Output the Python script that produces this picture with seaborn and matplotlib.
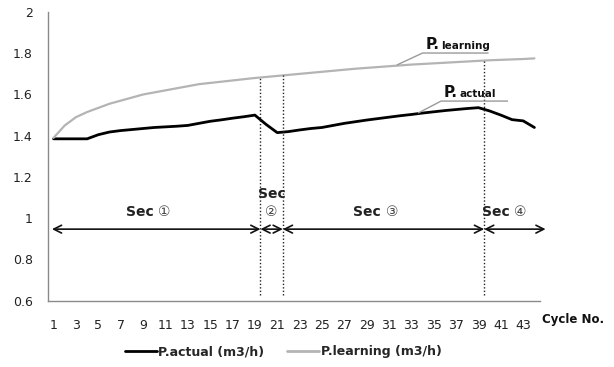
import numpy as np
import pandas as pd
import matplotlib
matplotlib.use("Agg")
import matplotlib.pyplot as plt
import seaborn as sns
from matplotlib.lines import Line2D

cycles = list(range(1, 45))
p_actual = [1.385, 1.385, 1.385, 1.385, 1.405, 1.418, 1.425, 1.430, 1.435, 1.440,
            1.443, 1.446, 1.450, 1.460, 1.470, 1.477, 1.485, 1.492, 1.500, 1.455,
            1.415, 1.420, 1.428, 1.435, 1.440, 1.450, 1.460, 1.468, 1.476, 1.483,
            1.490, 1.497, 1.503, 1.510, 1.516, 1.522, 1.527, 1.532, 1.536, 1.520,
            1.500, 1.478, 1.472, 1.440]
p_learning = [1.390, 1.450, 1.490, 1.515, 1.535, 1.555, 1.570, 1.585, 1.600, 1.610,
              1.620, 1.630, 1.640, 1.650, 1.656, 1.662, 1.668, 1.674, 1.680, 1.685,
              1.690, 1.695, 1.700, 1.705, 1.710, 1.715, 1.720, 1.725, 1.729, 1.733,
              1.737, 1.741, 1.745, 1.748, 1.751, 1.754, 1.757, 1.760, 1.763, 1.766,
              1.768, 1.770, 1.772, 1.775]
xtick_labels = [str(v) for v in range(1, 44, 2)]
ytick_values = [0.6, 0.8, 1.0, 1.2, 1.4, 1.6, 1.8, 2.0]
ytick_labels = ["0.6", "0.8", "1", "1.2", "1.4", "1.6", "1.8", "2"]
section_bounds = [0.85, 19.5, 21.5, 39.5, 45.0]
section_names = ["①", "②", "③", "④"]
series_names = ["P.actual (m3/h)", "P.learning (m3/h)"]

sns.set_style("white")
plt.rcParams['font.family'] = ['DejaVu Sans', 'Noto Sans CJK KR']

df = pd.DataFrame({
    "Cycle": cycles * 2,
    "Value": p_actual + p_learning,
    "Series": [series_names[0]] * len(cycles) + [series_names[1]] * len(cycles),
})

fig = plt.figure(figsize=(6.14, 3.67), dpi=100)
ax = fig.add_axes([48 / 614, 1 - 300.7 / 367, (540 - 48) / 614, (300.7 - 12) / 367])

sns.lineplot(data=df, x="Cycle", y="Value", hue="Series",
             palette={series_names[0]: "#000000", series_names[1]: "#b4b4b4"},
             ax=ax, legend=False, linewidth=2.0)
ax.lines[0].set_linewidth(2.0)
ax.lines[1].set_linewidth(1.6)

ax.set_xlim(0.5, 44.5)
ax.set_ylim(0.6, 2.0)
ax.set_xticks(list(range(1, 44, 2)))
ax.set_xticklabels(xtick_labels)
ax.set_yticks(ytick_values)
ax.set_yticklabels(ytick_labels)
ax.tick_params(axis="both", length=0, labelsize=9, colors="#222222")
ax.tick_params(axis="x", pad=13)
ax.tick_params(axis="y", pad=11)
ax.set_xlabel("")
ax.set_ylabel("")
for s in ["top", "right"]:
    ax.spines[s].set_visible(False)
for s in ["left", "bottom"]:
    ax.spines[s].set_color("#8a8a8a")
    ax.spines[s].set_linewidth(1.0)

# dotted section dividers
for xb in section_bounds[1:4]:
    top = np.interp(xb, cycles, p_learning)
    ax.vlines(xb, 0.627, top, colors="#222222", linestyles=(0, (1, 1.5)), linewidth=1.0)

# section arrows
arrow_y = 0.947
for i in range(4):
    ax.annotate("", xy=(section_bounds[i], arrow_y), xytext=(section_bounds[i + 1], arrow_y),
                arrowprops=dict(arrowstyle="<->", color="#111111", lw=1.2,
                                shrinkA=0, shrinkB=0, mutation_scale=14),
                annotation_clip=False)

label_y = 1.03
ax.text((section_bounds[0] + section_bounds[1]) / 2 + 0.2, label_y, "Sec ",
        ha="right", va="center", fontsize=10, fontweight="bold", color="#222222")
ax.text((section_bounds[0] + section_bounds[1]) / 2 + 0.2, label_y, section_names[0],
        ha="left", va="center", fontsize=10, color="#444444")
ax.text((section_bounds[1] + section_bounds[2]) / 2, 1.115, "Sec",
        ha="center", va="center", fontsize=10, fontweight="bold", color="#222222")
ax.text((section_bounds[1] + section_bounds[2]) / 2, label_y, section_names[1],
        ha="center", va="center", fontsize=10, color="#444444")
ax.text((section_bounds[2] + section_bounds[3]) / 2 + 0.2, label_y, "Sec ",
        ha="right", va="center", fontsize=10, fontweight="bold", color="#222222")
ax.text((section_bounds[2] + section_bounds[3]) / 2 + 0.2, label_y, section_names[2],
        ha="left", va="center", fontsize=10, color="#444444")
ax.text(42.2, label_y, "Sec ", ha="right", va="center", fontsize=10,
        fontweight="bold", color="#222222")
ax.text(42.2, label_y, section_names[3], ha="left", va="center", fontsize=10,
        color="#444444")

# callouts
def callout(x_tip, y_tip, x0, x1, y_line, main, sub):
    ax.plot([x_tip, x0, x1], [y_tip, y_line, y_line], color="#9a9a9a", lw=1.0,
            solid_capstyle="butt")
    ax.annotate(main, xy=(x0 + 0.25, y_line), xytext=(0, 4), textcoords="offset pixels",
                ha="left", va="baseline", fontsize=11, fontweight="bold", color="#111111")
    ax.annotate(sub, xy=(x0 + 0.25, y_line), xytext=(16, 4), textcoords="offset pixels",
                ha="left", va="baseline", fontsize=7.5, fontweight="bold", color="#111111")

callout(31.7, 1.743, 34.0, 39.9, 1.801, "P.", "learning")
callout(33.6, 1.51, 35.65, 41.64, 1.568, "P.", "actual")

fig.text(573 / 614, 1 - 319 / 367, "Cycle No.", ha="center", va="center",
         fontsize=8.5, fontweight="bold", color="#111111")

handles = [Line2D([], [], color="#000000", lw=2.0), Line2D([], [], color="#b4b4b4", lw=2.0)]
leg = fig.legend(handles, series_names, loc="center", bbox_to_anchor=(283 / 614, 1 - 352 / 367),
                 ncol=2, frameon=False, handlelength=2.6, handletextpad=0.1,
                 columnspacing=1.8, prop={"weight": "bold", "size": 9})

fig.savefig("out.png", dpi=100)
